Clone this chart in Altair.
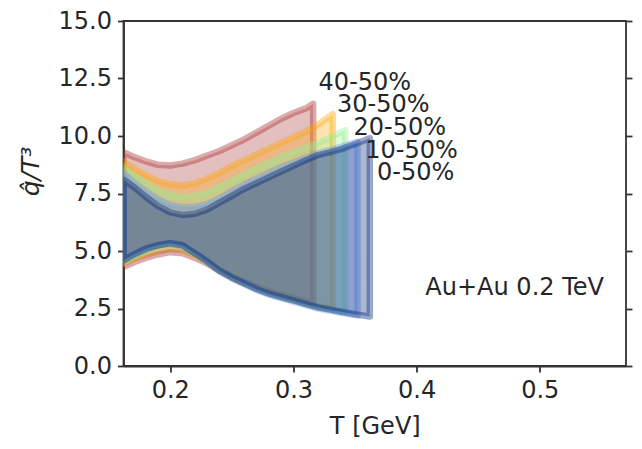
import altair as alt
import pandas as pd

# ---- data ----
LABELS = ["40-50%", "30-50%", "20-50%", "10-50%", "0-50%"]
COLORS = ["#a52a2a", "#ffa500", "#90ee90", "#6495ed", "#002378"]

T_BASE = [0.162, 0.17, 0.18, 0.19, 0.20, 0.21, 0.22, 0.23, 0.24, 0.25,
          0.26, 0.27, 0.28, 0.29, 0.30, 0.31]

T_4050 = T_BASE + [0.316]
HI_4050 = [9.3, 9.1, 8.9, 8.75, 8.72, 8.8, 8.95, 9.15, 9.35, 9.6, 9.85, 10.15, 10.45, 10.75, 11.0, 11.2, 11.4]
LO_4050 = [4.3, 4.5, 4.7, 4.85, 4.95, 4.9, 4.7, 4.45, 4.15, 3.9, 3.65, 3.45, 3.25, 3.1, 2.95, 2.8, 2.72]

T_3050 = T_BASE + [0.32, 0.332]
HI_3050 = [8.9, 8.6, 8.3, 8.05, 7.9, 7.85, 7.95, 8.15, 8.4, 8.7, 8.95, 9.2, 9.45, 9.7, 9.95, 10.2, 10.5, 10.95]
LO_3050 = [4.45, 4.65, 4.85, 5.05, 5.15, 5.05, 4.8, 4.5, 4.15, 3.85, 3.6, 3.4, 3.2, 3.05, 2.9, 2.75, 2.6, 2.5]

T_2050 = T_BASE + [0.32, 0.33, 0.342]
HI_2050 = [8.65, 8.3, 7.95, 7.65, 7.45, 7.35, 7.4, 7.55, 7.8, 8.05, 8.35, 8.6, 8.85, 9.1, 9.3, 9.5, 9.7, 9.95, 10.25]
LO_2050 = [4.5, 4.7, 4.95, 5.15, 5.25, 5.15, 4.85, 4.5, 4.15, 3.85, 3.6, 3.35, 3.15, 3.0, 2.85, 2.7, 2.55, 2.45, 2.35]

T_1050 = T_BASE + [0.32, 0.33, 0.34, 0.352]
HI_1050 = [8.4, 8.0, 7.6, 7.25, 7.0, 6.9, 6.92, 7.05, 7.3, 7.6, 7.9, 8.15, 8.4, 8.65, 8.85, 9.05, 9.25, 9.4, 9.55, 9.75]
LO_1050 = [4.6, 4.8, 5.05, 5.25, 5.3, 5.2, 4.9, 4.5, 4.1, 3.8, 3.55, 3.3, 3.1, 2.95, 2.8, 2.65, 2.5, 2.4, 2.3, 2.2]

T_0050 = T_BASE + [0.32, 0.33, 0.34, 0.35, 0.362]
HI_0050 = [8.1, 7.8, 7.35, 6.95, 6.68, 6.57, 6.62, 6.8, 7.1, 7.4, 7.7, 7.95, 8.2, 8.45, 8.7, 8.95, 9.17, 9.3, 9.45, 9.65, 9.9]
LO_0050 = [4.6, 4.85, 5.1, 5.25, 5.35, 5.25, 4.9, 4.55, 4.15, 3.85, 3.6, 3.35, 3.15, 3.0, 2.85, 2.7, 2.55, 2.45, 2.35, 2.25, 2.15]

LABEL_T = [0.3204, 0.3353, 0.3488, 0.3583, 0.3679]
LABEL_V = [12.29, 11.35, 10.33, 9.36, 8.38]

NOTE_TEXT = ["Au+Au 0.2 TeV"]
NOTE_T = [0.4071]
NOTE_V = [3.41]

X_TICKS = [0.2, 0.3, 0.4, 0.5]
Y_TICKS = [0.0, 2.5, 5.0, 7.5, 10.0, 12.5, 15.0]

SERIES = [
    (T_4050, HI_4050, LO_4050),
    (T_3050, HI_3050, LO_3050),
    (T_2050, HI_2050, LO_2050),
    (T_1050, HI_1050, LO_1050),
    (T_0050, HI_0050, LO_0050),
]
FILL_OPACITY = [0.3, 0.3, 0.3, 0.3, 0.33]

FONT = "DejaVu Sans"
TXT = "#262626"
AX = "#333333"

xs = alt.Scale(domain=[0.162, 0.57], nice=False, zero=False)
ys = alt.Scale(domain=[0, 15], nice=False, zero=False)

layers = []
for k, (lab, col, op, (T, hi, lo)) in enumerate(zip(LABELS, COLORS, FILL_OPACITY, SERIES)):
    df_area = pd.DataFrame({"T": T, "hi": hi, "lo": lo})
    # closed outline: upper forward, lower backward, back to start
    path_T = list(T) + list(reversed(T)) + [T[0]]
    path_v = list(hi) + list(reversed(lo)) + [hi[0]]
    df_line = pd.DataFrame({"T": path_T, "v": path_v, "i": list(range(len(path_T)))})

    if k == 0:
        xax = alt.Axis(values=X_TICKS, format=".1f", title="T [GeV]",
                       labelPadding=6, titlePadding=12, labelFlush=False)
        yax = alt.Axis(values=Y_TICKS, format=".1f", title="q̂/T³",
                       titleFontStyle="italic", titleFontSize=25, labelPadding=6,
                       labelFlush=False, titleX=-93, titleY=150,
                       titleBaseline="middle", titleAngle=270)
    else:
        xax = None
        yax = None

    area = alt.Chart(df_area).mark_area(color=col, opacity=op, clip=True).encode(
        x=alt.X("T:Q", scale=xs, axis=xax),
        y=alt.Y("hi:Q", scale=ys, axis=yax),
        y2="lo:Q",
    )
    if k == 1:
        lax = alt.Axis(orient="right", values=Y_TICKS, labels=False, title=None, domain=False)
    else:
        lax = None
    line = alt.Chart(df_line).mark_line(
        color=col, opacity=0.4, strokeWidth=6.5, strokeJoin="round", strokeCap="round", clip=True
    ).encode(
        x=alt.X("T:Q", scale=xs, axis=None),
        y=alt.Y("v:Q", scale=ys, axis=lax),
        order="i:Q",
    )
    layers += [area, line]

df_lab = pd.DataFrame({"T": LABEL_T, "v": LABEL_V, "t": LABELS})
labels = alt.Chart(df_lab).mark_text(
    align="left", baseline="middle", font=FONT, fontSize=24, color=TXT
).encode(
    x=alt.X("T:Q", scale=xs, axis=None),
    y=alt.Y("v:Q", scale=ys, axis=None),
    text="t:N",
)

df_note = pd.DataFrame({"T": NOTE_T, "v": NOTE_V, "t": NOTE_TEXT})
note = alt.Chart(df_note).mark_text(
    align="left", baseline="middle", font=FONT, fontSize=24, color=TXT
).encode(
    x=alt.X("T:Q", scale=xs, axis=None),
    y=alt.Y("v:Q", scale=ys, axis=None),
    text="t:N",
)

chart = alt.layer(*layers, labels, note).resolve_axis(
    x="independent", y="independent"
).properties(
    width=502.5,
    height=345,
    autosize=alt.AutoSizeParams(type="none"),
    padding={"left": 115.5, "top": 13, "right": 8, "bottom": 75},
).configure_view(
    stroke=AX, strokeWidth=1.8
).configure_axis(
    grid=False,
    domainColor=AX, domainWidth=1.8,
    tickColor=AX, tickWidth=1.8, tickSize=6,
    labelFont=FONT, labelFontSize=24, labelColor=TXT,
    titleFont=FONT, titleFontSize=24, titleColor=TXT, titleFontWeight="normal",
    labelOverlap=False,
)

chart.save("out.html", embed_options={"renderer": "svg", "actions": False})
